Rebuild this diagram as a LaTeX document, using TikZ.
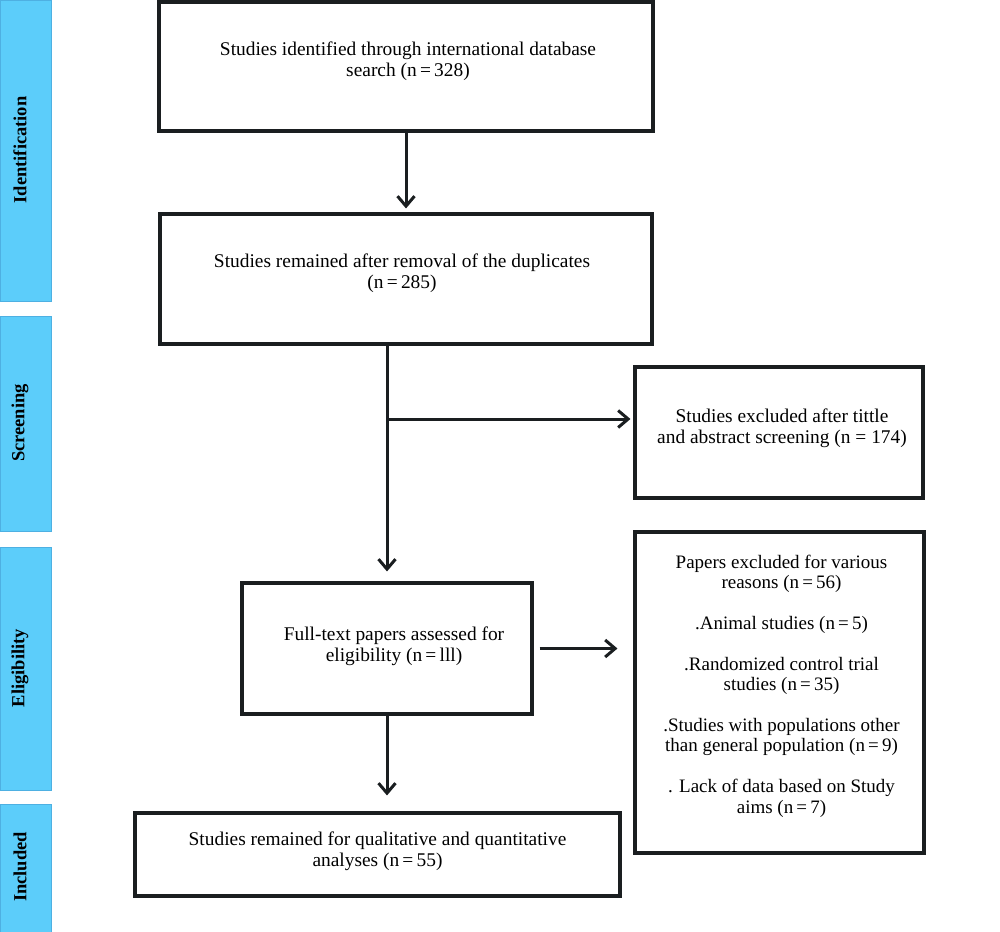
\documentclass[tikz,border=0pt]{standalone}
\usepackage{fontspec}
\setmainfont{Liberation Serif}
\usetikzlibrary{arrows.meta}
\definecolor{bandfill}{RGB}{92,205,250}
\definecolor{bandedge}{RGB}{78,176,226}
\definecolor{ink}{RGB}{26,30,32}
\tikzset{
  box/.style={draw=ink, line width=3.1pt, fill=white, inner sep=0pt},
  txt/.style={align=center, font=\fontsize{19.4}{21}\selectfont, inner sep=0pt},
  bandbox/.style={fill=bandfill, draw=bandedge, line width=0.7pt, inner sep=0pt, anchor=north west, minimum width=51pt},
  bandlabel/.style={rotate=90, font=\bfseries\fontsize{18.5}{20}\selectfont, inner sep=0pt},
  arr/.style={draw=ink, line width=3pt, -{Straight Barb[length=10pt,width=17pt]}},
  conn/.style={draw=ink, line width=3pt},
}
\begin{document}
\begin{tikzpicture}[x=1pt,y=-1pt]
\useasboundingbox (0,0) rectangle (1000,931);
% phase bands
\node[bandbox, minimum height=301pt] (bid) at (0,0) {};
\node[bandbox, minimum height=215pt] (bsc) at (0,316) {};
\node[bandbox, minimum height=243pt] (bel) at (0,547) {};
\node[bandbox, minimum height=128pt] (bin) at (0,804) {};
\node[bandlabel] (lid) at (20,150) {Identification};
\node[bandlabel] (lsc) at (20,423) {Screening};
\node[bandlabel] (lel) at (20,668) {Eligibility};
\node[bandlabel] (lin) at (20,867) {Included};
% boxes
\node[box, minimum width=494pt, minimum height=129pt] (b1) at (406,66.5) {};
\node[box, minimum width=492pt, minimum height=130pt] (b2) at (406,279) {};
\node[box, minimum width=288pt, minimum height=131pt] (b4) at (779,432.5) {};
\node[box, minimum width=290pt, minimum height=131pt] (b3) at (387,648.5) {};
\node[box, minimum width=289pt, minimum height=321pt] (b5) at (779.5,692.5) {};
\node[box, minimum width=485pt, minimum height=83pt] (b6) at (377.5,854.5) {};
% texts
\node[txt] (t1) at ([xshift=2pt,yshift=5pt]b1.center) {Studies identified through international database\\search (n\,=\,328)};
\node[txt] (t2) at ([xshift=-4pt,yshift=6pt]b2.center) {Studies remained after removal of the duplicates\\(n\,=\,285)};
\node[txt] (t4) at ([xshift=3pt,yshift=4.5pt]b4.center) {Studies excluded after tittle\\and abstract screening (n =\ 174)};
\node[txt] (t3) at ([xshift=7pt,yshift=2.5pt]b3.center) {Full-text papers assessed for\\eligibility (n\,=\,lll)};
\node[txt, font=\fontsize{19}{20.4}\selectfont] (t5) at ([xshift=2pt,yshift=6.5pt]b5.center) {Papers excluded for various\\reasons (n\,=\,56)\\[20.4pt]
.Animal studies (n\,=\,5)\\[20.4pt]
.Randomized control trial\\studies (n\,=\,35)\\[20.4pt]
.Studies with populations other\\than general population (n\,=\,9)\\[20.4pt]
. Lack of data based on Study\\aims (n\,=\,7)};
\node[txt] (t6) at ([yshift=3.5pt]b6.center) {Studies remained for qualitative and quantitative\\analyses (n\,=\,55)};
% connectors
\draw[arr, shorten >=4pt] (b1.south) -- (b2.north);
\coordinate (top3) at (b2.south -| b3.north);
\draw[arr, shorten >=10pt] (top3) -- (b3.north);
\coordinate (br) at (386,419);
\draw[arr, shorten >=3pt] (br) -- (br -| b4.west);
\draw[arr, shorten <=6pt, shorten >=16pt] (b3.east) -- (b3.east -| b5.west);
\draw[arr, shorten >=16pt] (b3.south) -- (b3.south |- b6.north);
\end{tikzpicture}
\end{document}
